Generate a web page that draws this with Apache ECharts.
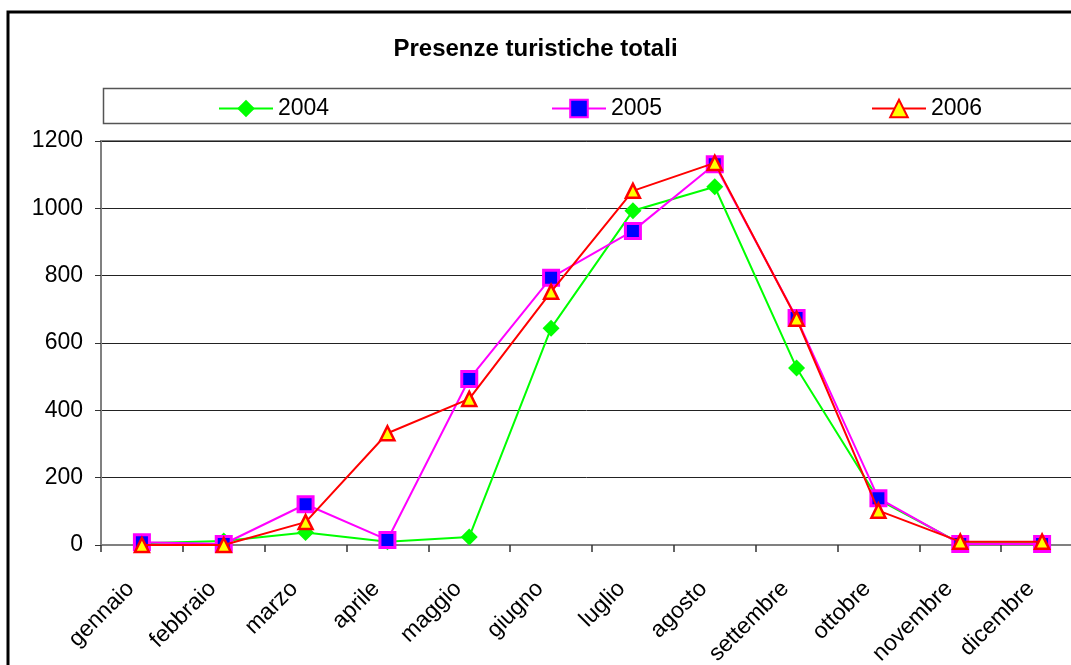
<!DOCTYPE html>
<html><head><meta charset="utf-8">
<script src="https://cdn.jsdelivr.net/npm/echarts@6/dist/echarts.min.js"></script>
<style>html,body{margin:0;padding:0;background:#fff}#c{width:1071px;height:665px}</style>
</head><body><div id="c"></div>
<script>
const categories = ['gennaio','febbraio','marzo','aprile','maggio','giugno','luglio','agosto','settembre','ottobre','novembre','dicembre'];
const s2004 = [5, 12, 37, 10, 24, 644, 993, 1064, 526, 135, 5, 5];
const s2005 = [8, 3, 121, 15, 493, 794, 933, 1131, 674, 139, 3, 3];
const s2006 = [0, 0, 68, 332, 434, 752, 1052, 1135, 672, 102, 10, 10];
const yTicks = [0, 200, 400, 600, 800, 1000, 1200];

const chart = echarts.init(document.getElementById('c'));
const font = 'Liberation Sans, Arial, sans-serif';
function legendAt(name, left) {
  return {
    data: [name], left: left, top: 92, itemWidth: 54, itemHeight: 22, itemGap: 6,
    textStyle: {fontFamily: font, fontSize: 23, color: '#000'}, selectedMode: false
  };
}
chart.setOption({
  animation: false,
  title: {
    text: 'Presenze turistiche totali', left: 'center', top: 32,
    textStyle: {fontFamily: font, fontSize: 24, fontWeight: 'bold', color: '#000'}
  },
  graphic: [
    {type: 'rect', shape: {x: 8, y: 12, width: 1120, height: 720}, style: {fill: 'none', stroke: '#000', lineWidth: 3}, z: -1},
    {type: 'rect', shape: {x: 103.5, y: 88.5, width: 1000, height: 35}, style: {fill: 'none', stroke: '#555', lineWidth: 1.5}, z: -1}
  ],
  legend: [legendAt('2004', 213), legendAt('2005', 546), legendAt('2006', 866)],
  grid: {left: 101, top: 141, width: 982, height: 404, show: true, borderColor: '#808080', borderWidth: 2, outerBoundsMode: 'none', containLabel: false},
  xAxis: {
    type: 'category', data: categories, boundaryGap: true,
    axisLine: {lineStyle: {color: '#808080', width: 2}},
    axisTick: {show: true, length: 7, lineStyle: {color: '#333', width: 1.5}},
    axisLabel: {rotate: 45, fontFamily: font, fontSize: 23, color: '#000', margin: 29, padding: [0, 16, 0, 0], interval: 0}
  },
  yAxis: {
    type: 'value', min: yTicks[0], max: yTicks[yTicks.length - 1], interval: 200,
    axisLine: {show: true, lineStyle: {color: '#808080', width: 2}},
    axisTick: {show: true, length: 6, lineStyle: {color: '#333'}},
    axisLabel: {fontFamily: font, fontSize: 23, color: '#000', margin: 18, formatter: v => String(v)},
    splitLine: {lineStyle: {color: '#222', width: 1}}
  },
  series: [
    {name: '2004', type: 'line', data: s2004, symbol: 'diamond', symbolSize: 17,
     lineStyle: {color: '#00ff00', width: 2}, itemStyle: {color: '#00ff00', borderWidth: 0}, z: 2},
    {name: '2005', type: 'line', data: s2005, symbol: 'rect', symbolSize: 15,
     lineStyle: {color: '#ff00ff', width: 2}, itemStyle: {color: '#0000ff', borderColor: '#ff00ff', borderWidth: 3}, z: 3},
    {name: '2006', type: 'line', data: s2006, symbol: 'triangle', symbolSize: 14,
     lineStyle: {color: '#ff0000', width: 2}, itemStyle: {color: '#ffff00', borderColor: '#ff0000', borderWidth: 2.5}, z: 4}
  ]
});
</script></body></html>
